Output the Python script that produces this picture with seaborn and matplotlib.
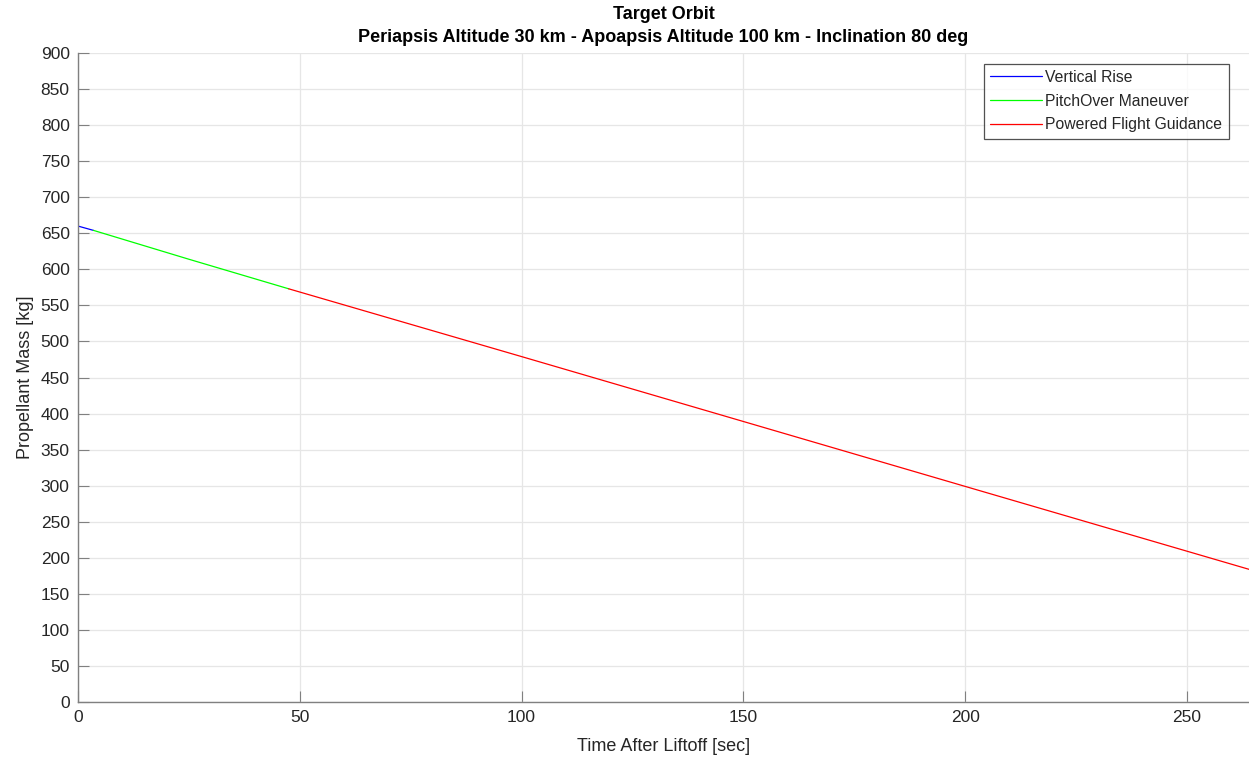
import pandas as pd
import numpy as np
import seaborn as sns
import matplotlib.pyplot as plt

# phase data (time in sec, propellant mass in kg)
rise_t = [0, 3.5]
rise_m = [660, 654]
pitch_t = [3.5, 25, 47.5]
pitch_m = [654, 614, 573]
pfg_t = [47.5, 100, 150, 200, 264]
pfg_m = [573, 479, 389, 299, 184]
phases = ["Vertical Rise", "PitchOver Maneuver", "Powered Flight Guidance"]
colors = ["#0000ff", "#00ff00", "#ff0000"]

df = pd.concat([
    pd.DataFrame({"t": rise_t, "m": rise_m, "phase": phases[0]}),
    pd.DataFrame({"t": pitch_t, "m": pitch_m, "phase": phases[1]}),
    pd.DataFrame({"t": pfg_t, "m": pfg_m, "phase": phases[2]}),
])

sns.set_style("white")
plt.rcParams["font.family"] = ["Liberation Sans", "DejaVu Sans"]

fig = plt.figure(figsize=(12.49, 7.59), dpi=100)
ax = fig.add_axes([78 / 1249, 57 / 759, 1171 / 1249, 649 / 759])

sns.lineplot(data=df, x="t", y="m", hue="phase", hue_order=phases,
             palette=colors, linewidth=0.9, ax=ax, sort=False)

ax.set_xlim(0, 264)
ax.set_ylim(0, 900)
ax.set_xticks(np.arange(0, 251, 50))
ax.set_yticks(np.arange(0, 901, 50))
ax.grid(True, color="#e6e6e6", linewidth=0.9)
ax.set_axisbelow(True)
for s in ["top", "right"]:
    ax.spines[s].set_visible(False)
for s in ["left", "bottom"]:
    ax.spines[s].set_color("#808080")
    ax.spines[s].set_linewidth(1.0)
ax.tick_params(direction="in", length=8, colors="#808080", labelcolor="#262626",
               labelsize=12.5, left=True, bottom=True, pad=6)

ax.set_xlabel("Time After Liftoff [sec]", fontsize=13, color="#262626", labelpad=9)
ax.set_ylabel("Propellant Mass [kg]", fontsize=13, color="#262626", labelpad=5)
ax.set_title("Target Orbit\nPeriapsis Altitude 30 km - Apoapsis Altitude 100 km - Inclination 80 deg",
             fontsize=13, fontweight="bold", color="black", pad=8, linespacing=1.45)

leg = ax.legend(loc="upper right", bbox_to_anchor=(0.9825, 0.9835), fontsize=11.3,
                frameon=True, fancybox=False, edgecolor="#262626",
                handlelength=3.3, borderpad=0.4, labelspacing=0.55, handletextpad=0.2,
                borderaxespad=0)
leg.get_frame().set_linewidth(0.9)
for line in leg.get_lines():
    line.set_linewidth(0.9)

plt.savefig("out.png", dpi=100)
